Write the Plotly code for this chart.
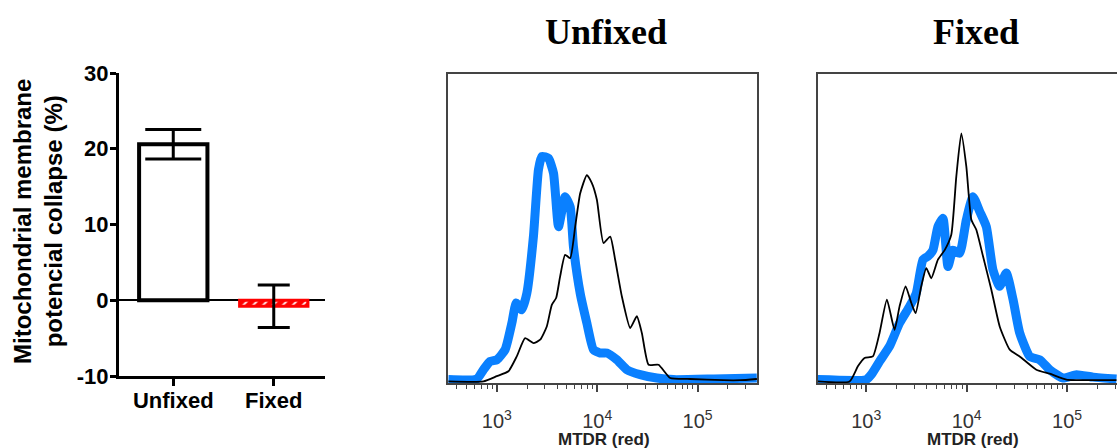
import plotly.graph_objects as go

# ---- Bar chart: mitochondrial membrane potential collapse ----
groups = ["Unfixed", "Fixed"]
collapse_mean = [20.6, -0.8]
collapse_sd = [1.95, 2.8]
y_tick_vals = [-10, 0, 10, 20, 30]
y_tick_text = ["-10", "0", "10", "20", "30"]

# ---- Flow cytometry histograms (MTDR intensity vs. % of max) ----
unfixed_blue_x = [330, 631, 736, 859, 1000, 1211, 1413, 1560, 1774, 1991, 2317, 2600, 2812,
                  3273, 3673, 4121, 4797, 5383, 5808, 6776, 7889, 9183, 10715, 12474, 15704,
                  19770, 26853, 39355, 57677, 144544, 389045]
unfixed_blue_y = [1.1, 1.3, 4.3, 7, 7.5, 10.8, 19.4, 25.9, 23.7, 29, 47.4, 69, 73.3,
                  72.7, 67.9, 50.6, 60.3, 57, 44, 29, 19.4, 10.8, 9.7, 9.7, 7.5,
                  4.3, 2.7, 1.6, 1.1, 1.3, 1.6]

unfixed_black_x = [330, 736, 1000, 1306, 1581, 1915, 2317, 2704, 3148, 3532, 3899, 4276, 4797,
                   5383, 6039, 6776, 7889, 8851, 9931, 11561, 13490, 15101, 17620, 21330,
                   24831, 27861, 32510, 40832, 53456, 84528, 181550, 266073, 389942]
unfixed_black_y = [0.5, 0.5, 2.2, 3.8, 8.6, 14.5, 12.9, 14, 18.3, 25.3, 27.5, 34.5, 41.5,
                   40.4, 50.6, 61.4, 67.3, 64.7, 59.3, 45.3, 47.4, 39.9, 28, 17.8,
                   21.6, 16.2, 5.9, 5.9, 1.6, 1.3, 0.9, 0.9, 1.3]

fixed_blue_x = [330, 1000, 1122, 1358, 1710, 2148, 2704, 3148, 3673, 4121, 4615, 5176, 5808,
                6516, 7311, 8511, 9931, 11561, 13490, 15704, 18281, 21330, 24831, 28973,
                33729, 42462, 53456, 67143, 91201, 123880, 181550, 310456]
fixed_blue_y = [1.1, 1.1, 2.7, 7, 11.9, 19.4, 24.8, 29, 39.9, 41, 43, 50.6, 53.3,
                37.7, 43, 42, 52.8, 60.3, 55.5, 50.6, 36.6, 31.3, 35.6, 27,
                16.2, 8.6, 7.5, 4.3, 1.6, 2.7, 1.9, 1.3]

fixed_black_x = [330, 682, 826, 962, 1165, 1358, 1607, 1915, 2148, 2466, 2812, 3105, 3532,
                 3963, 4446, 5176, 6039, 7031, 7889, 8851, 9931, 11143, 12474, 14555,
                 17620, 21330, 26853, 33729, 49431, 67143, 98401, 195884, 310456]
fixed_black_y = [0.5, 0.5, 5.4, 8.1, 8.6, 16.2, 27, 17.2, 24.8, 31.3, 25.9, 22.6, 31.3,
                 37.2, 33.9, 39.9, 43, 48, 66.8, 80.8, 70, 52.8, 49.6, 41,
                 30.2, 18.3, 10.8, 8.6, 4.3, 3, 1.1, 0.9, 0.9]

W, H = 1117, 448
SANS = "Liberation Sans, Arial, sans-serif"
SERIF = "Liberation Serif, Times New Roman, serif"
BLUE = "#0a80ff"
FRAME = "#444444"


def px_x(p):
    return p / W


def px_y(p):
    return (H - p) / H


fig = go.Figure()

# Bars with SD error bars
fig.add_trace(go.Bar(
    x=[0], y=[collapse_mean[0]], width=0.68,
    marker=dict(color="white", line=dict(color="black", width=4)),
    error_y=dict(type="data", array=[collapse_sd[0]], color="black", thickness=3, width=28),
    xaxis="x", yaxis="y", showlegend=False,
))
fig.add_trace(go.Bar(
    x=[1], y=[collapse_mean[1]], width=0.68,
    marker=dict(color="#ff0000", line=dict(color="#ff0000", width=3),
                pattern=dict(shape="/", fgcolor="white", bgcolor="#ff0000",
                             size=7, solidity=0.25, fillmode="replace")),
    error_y=dict(type="data", array=[collapse_sd[1]], color="black", thickness=3, width=16),
    xaxis="x", yaxis="y", showlegend=False,
))

# Histograms: thick blue under thin black
for xs, ys, ax, ay in [(unfixed_blue_x, unfixed_blue_y, "x2", "y2"),
                       (fixed_blue_x, fixed_blue_y, "x3", "y3")]:
    fig.add_trace(go.Scatter(x=xs, y=ys, mode="lines", xaxis=ax, yaxis=ay,
                             line=dict(color=BLUE, width=9, shape="spline", smoothing=0.5),
                             showlegend=False))
for xs, ys, ax, ay in [(unfixed_black_x, unfixed_black_y, "x2", "y2"),
                       (fixed_black_x, fixed_black_y, "x3", "y3")]:
    fig.add_trace(go.Scatter(x=xs, y=ys, mode="lines", xaxis=ax, yaxis=ay,
                             line=dict(color="black", width=1.8, shape="spline", smoothing=0.5),
                             showlegend=False))

hist_x = dict(
    type="log", dtick=1, exponentformat="power", showexponent="all",
    showline=True, linecolor=FRAME, linewidth=1.5, mirror=True,
    ticks="outside", ticklen=7, tickwidth=1.5, tickcolor=FRAME,
    minor=dict(ticks="outside", ticklen=4, tickwidth=1.2, tickcolor=FRAME, dtick="D1"),
    tickfont=dict(family=SANS, size=16, color="#333333"),
    ticklabelstandoff=13, showgrid=False, zeroline=False, automargin=False,
)
hist_y = dict(range=[0, 100], showticklabels=False, ticks="", showgrid=False,
              zeroline=False, showline=True, linecolor=FRAME, linewidth=1.5,
              automargin=False)

fig.update_layout(
    width=W, height=H, autosize=False,
    margin=dict(l=0, r=0, t=0, b=0, pad=0, autoexpand=False),
    paper_bgcolor="white", plot_bgcolor="white",
    barmode="overlay",
    xaxis=dict(
        domain=[px_x(119), px_x(325)], range=[-0.54, 1.51],
        tickvals=[0, 1], ticktext=groups,
        showline=True, linecolor="black", linewidth=3,
        ticks="outside", ticklen=7, tickwidth=3, tickcolor="black",
        tickfont=dict(family=SANS, size=22, color="black", weight="bold"),
        ticklabelstandoff=-4,
        showgrid=False, zeroline=False, anchor="y", automargin=False,
    ),
    yaxis=dict(
        domain=[px_y(376), px_y(73)], range=[-10, 30],
        tickvals=y_tick_vals, ticktext=y_tick_text,
        showline=True, linecolor="black", linewidth=3,
        ticks="outside", ticklen=6, tickwidth=3, tickcolor="black",
        tickfont=dict(family=SANS, size=22, color="black", weight="bold"),
        ticklabelstandoff=-3,
        showgrid=False, zeroline=True, zerolinecolor="black", zerolinewidth=2,
        anchor="x", automargin=False,
    ),
    xaxis2=dict(domain=[px_x(448), px_x(757)], range=[2.514, 5.592], anchor="y2", **hist_x),
    yaxis2=dict(domain=[px_y(383), px_y(74)], anchor="x2", mirror=True, **hist_y),
    xaxis3=dict(domain=[px_x(818), 1.0], range=[2.52, 5.497], anchor="y3", **hist_x),
    yaxis3=dict(domain=[px_y(383), px_y(74)], anchor="x3", mirror=False, **hist_y),
)

annotations = [
    dict(text="Mitochondrial membrane<br>potencial collapse (%)", textangle=-90,
         x=px_x(38), y=px_y(222), xanchor="center", yanchor="middle",
         font=dict(family=SANS, size=24, color="black", weight="bold")),
    dict(text="Unfixed", x=px_x(606), y=px_y(32), xanchor="center", yanchor="middle",
         font=dict(family=SERIF, size=36, color="black", weight="bold")),
    dict(text="Fixed", x=px_x(976), y=px_y(32), xanchor="center", yanchor="middle",
         font=dict(family=SERIF, size=36, color="black", weight="bold")),
    dict(text="MTDR (red)", x=px_x(603.5), y=px_y(439), xanchor="center", yanchor="middle",
         font=dict(family=SANS, size=17, color="#222222", weight="bold")),
    dict(text="MTDR (red)", x=px_x(973), y=px_y(439), xanchor="center", yanchor="middle",
         font=dict(family=SANS, size=17, color="#222222", weight="bold")),
]
for a in annotations:
    a.update(xref="paper", yref="paper", showarrow=False)
fig.update_layout(annotations=annotations)

fig.write_html("out.html")
